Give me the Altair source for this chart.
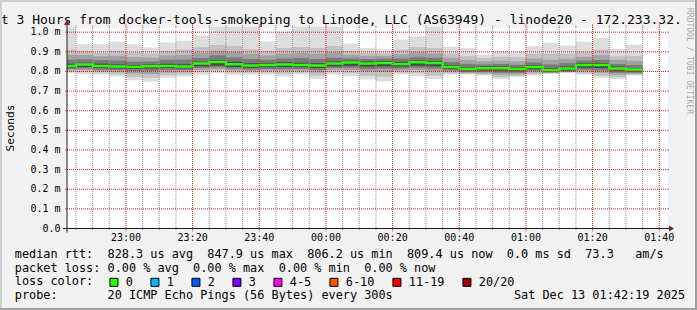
import altair as alt
import pandas as pd

# ---------------------------------------------------------------- text
TITLE_TEXT = "t 3 Hours from docker-tools-smokeping to Linode, LLC (AS63949) - linode20 - 172.233.32."
WATERMARK = "RRDTOOL / TOBI OETIKER"
Y_TITLE = "Seconds"
LEGEND_LINES = [
    "median rtt:  828.3 us avg  847.9 us max  806.2 us min  809.4 us now  0.0 ms sd  73.3   am/s",
    "packet loss: 0.00 % avg  0.00 % max  0.00 % min  0.00 % now",
    "loss color:",
    "probe:       20 ICMP Echo Pings (56 Bytes) every 300s                 Sat Dec 13 01:42:19 2025",
]
LOSS_LABELS = ["0", "1", "2", "3", "4-5", "6-10", "11-19", "20/20"]
LOSS_COLORS = ["#26ff00", "#00b8ff", "#0059ff", "#7e00ff", "#ff00ff", "#ff5500", "#ff0000", "#a10000"]

# ---------------------------------------------------------------- axes
X_START = "2025-12-12 22:42:19"
X_END = "2025-12-13 01:42:19"
X_TICK_TIMES = ["2025-12-12 23:00", "2025-12-12 23:20", "2025-12-12 23:40", "2025-12-13 00:00",
                "2025-12-13 00:20", "2025-12-13 00:40", "2025-12-13 01:00", "2025-12-13 01:20",
                "2025-12-13 01:40"]
X_TICK_LABELS = ["23:00", "23:20", "23:40", "00:00", "00:20", "00:40", "01:00", "01:20", "01:40"]
Y_TICKS = [0.0, 0.1, 0.2, 0.3, 0.4, 0.5, 0.6, 0.7, 0.8, 0.9, 1.0]
Y_TICK_LABELS = ["0.0", "0.1 m", "0.2 m", "0.3 m", "0.4 m", "0.5 m", "0.6 m", "0.7 m", "0.8 m", "0.9 m", "1.0 m"]
Y_MAX = 1.0265

# ---------------------------------------------------------------- data (ms), 5-minute bars from 22:40
FIRST_BAR = "2025-12-12 22:40"
MEDIAN = [0.828, 0.835, 0.828, 0.825, 0.823, 0.827, 0.828, 0.825, 0.840, 0.8479,
          0.837, 0.830, 0.833, 0.835, 0.833, 0.830, 0.841, 0.846, 0.841, 0.843,
          0.838, 0.847, 0.843, 0.823, 0.812, 0.816, 0.816, 0.813, 0.823, 0.8062,
          0.815, 0.833, 0.833, 0.815, 0.8094]
LOSS = ["0"] * 35
SMOKE_MAX = [1.040, 0.939, 0.939, 0.953, 0.939, 0.922, 0.947, 0.958, 0.983, 1.040,
             1.040, 1.040, 0.953, 1.003, 1.040, 1.040, 1.040, 0.942, 0.920, 0.912,
             0.963, 0.980, 1.040, 0.926, 0.920, 0.886, 0.903, 0.900, 0.929, 0.946,
             0.932, 0.951, 0.971, 0.915, 0.937]
SMOKE_HI2 = [0.910, 0.905, 0.895, 0.905, 0.898, 0.892, 0.905, 0.912, 0.925, 0.935,
             0.930, 0.915, 0.905, 0.920, 0.925, 0.920, 0.930, 0.905, 0.895, 0.893,
             0.910, 0.925, 0.920, 0.892, 0.880, 0.868, 0.875, 0.872, 0.890, 0.890,
             0.890, 0.900, 0.910, 0.878, 0.880]
SMOKE_HI3 = [0.885, 0.884, 0.878, 0.880, 0.872, 0.870, 0.882, 0.885, 0.895, 0.905,
             0.900, 0.890, 0.882, 0.892, 0.895, 0.890, 0.898, 0.885, 0.880, 0.880,
             0.888, 0.898, 0.893, 0.870, 0.858, 0.852, 0.855, 0.852, 0.866, 0.860,
             0.865, 0.875, 0.882, 0.858, 0.855]
SMOKE_HI4 = [0.860, 0.862, 0.858, 0.856, 0.850, 0.851, 0.860, 0.860, 0.868, 0.883,
             0.873, 0.863, 0.860, 0.866, 0.868, 0.864, 0.870, 0.866, 0.864, 0.866,
             0.866, 0.873, 0.870, 0.848, 0.838, 0.836, 0.838, 0.834, 0.846, 0.836,
             0.843, 0.856, 0.858, 0.838, 0.833]
SMOKE_HI5 = [0.839, 0.845, 0.839, 0.835, 0.832, 0.835, 0.839, 0.837, 0.849, 0.857,
             0.849, 0.842, 0.843, 0.847, 0.845, 0.842, 0.851, 0.855, 0.851, 0.853,
             0.849, 0.856, 0.853, 0.833, 0.822, 0.825, 0.825, 0.821, 0.832, 0.815,
             0.825, 0.843, 0.843, 0.825, 0.818]
SMOKE_LO5 = [0.819, 0.823, 0.818, 0.815, 0.812, 0.815, 0.817, 0.815, 0.827, 0.831,
             0.823, 0.819, 0.821, 0.823, 0.821, 0.817, 0.827, 0.829, 0.825, 0.827,
             0.825, 0.829, 0.827, 0.812, 0.803, 0.805, 0.803, 0.801, 0.811, 0.799,
             0.805, 0.819, 0.817, 0.803, 0.800]
SMOKE_LO4 = [0.812, 0.815, 0.809, 0.807, 0.802, 0.803, 0.807, 0.807, 0.817, 0.822,
             0.814, 0.810, 0.812, 0.813, 0.812, 0.807, 0.817, 0.819, 0.813, 0.815,
             0.815, 0.819, 0.815, 0.805, 0.797, 0.797, 0.793, 0.793, 0.803, 0.795,
             0.800, 0.809, 0.805, 0.793, 0.794]
SMOKE_LO3 = [0.805, 0.807, 0.801, 0.797, 0.789, 0.787, 0.795, 0.797, 0.807, 0.812,
             0.805, 0.801, 0.803, 0.802, 0.803, 0.795, 0.807, 0.807, 0.800, 0.799,
             0.805, 0.807, 0.801, 0.798, 0.792, 0.790, 0.783, 0.785, 0.795, 0.792,
             0.797, 0.800, 0.793, 0.783, 0.788]
SMOKE_LO2 = [0.798, 0.796, 0.793, 0.786, 0.772, 0.767, 0.782, 0.786, 0.796, 0.801,
             0.794, 0.793, 0.794, 0.788, 0.795, 0.778, 0.796, 0.791, 0.778, 0.773,
             0.795, 0.791, 0.780, 0.790, 0.788, 0.784, 0.770, 0.778, 0.786, 0.790,
             0.795, 0.790, 0.778, 0.770, 0.783]
SMOKE_MIN = [0.791, 0.786, 0.783, 0.774, 0.755, 0.748, 0.769, 0.774, 0.783, 0.791,
             0.783, 0.783, 0.783, 0.774, 0.785, 0.762, 0.784, 0.776, 0.759, 0.750,
             0.784, 0.776, 0.762, 0.784, 0.784, 0.779, 0.762, 0.772, 0.779, 0.789,
             0.793, 0.784, 0.767, 0.762, 0.779]

LEVEL_NAMES = ["L1", "L2", "L3", "L4", "L5"]
SMOKE_SHADES = ["#dddddd", "#c2c2c2", "#a2a2a2", "#7a7a7a", "#484848"]

# ---------------------------------------------------------------- layout
MONO = "DejaVu Sans Mono"
PL, PT, W, H = 67, 27, 600, 201.5
TOTAL_W, TOTAL_H = 697, 310
BG = "#f2f2f2"
GRID_MINOR = "#8f8f8f"
GRID_MAJOR = "#d42020"
TICK_MINOR = "#a8a8a8"
TICK_MAJOR = "#e06868"
AXIS_COL = "#1f1f1f"
ARROW_COL = "#801f1f"


def ms(ts):
    t = pd.Timestamp(ts)
    if t.tzinfo is None:
        t = t.tz_localize("UTC")
    return int(t.timestamp() * 1000)


def rx(a):
    return a - PL


def ry(a):
    return a - PT


NB = "\u00a0"
n = len(MEDIAN)
starts = pd.date_range(FIRST_BAR, periods=n, freq="5min", tz="UTC")
ends = starts + pd.Timedelta(minutes=5)

rows = []
for name, lo, hi in zip(LEVEL_NAMES,
                        [SMOKE_MIN, SMOKE_LO2, SMOKE_LO3, SMOKE_LO4, SMOKE_LO5],
                        [SMOKE_MAX, SMOKE_HI2, SMOKE_HI3, SMOKE_HI4, SMOKE_HI5]):
    for i in range(n):
        rows.append({"start": ms(starts[i]), "end": ms(ends[i]), "lo": lo[i], "hi": hi[i], "level": name})
df_smoke = pd.DataFrame(rows)

df_med = pd.DataFrame({"t": [ms(s) for s in starts] + [ms(ends[-1])],
                       "median": MEDIAN + [MEDIAN[-1]],
                       "loss": LOSS + [LOSS[-1]]})

major_ms = [ms(t) for t in X_TICK_TIMES]
grid_all = pd.date_range("2025-12-12 22:45", "2025-12-13 01:40", freq="5min", tz="UTC")
minor_ms = [ms(t) for t in grid_all if ms(t) not in major_ms]
df_minor = pd.DataFrame({"t": minor_ms})
df_major = pd.DataFrame({"t": major_ms, "label": X_TICK_LABELS})
df_ygrid = pd.DataFrame({"v": Y_TICKS[1:]})
df_ylab = pd.DataFrame({"v": Y_TICKS, "label": [s.replace(" ", NB).ljust(5, NB) for s in Y_TICK_LABELS]})
one = pd.DataFrame({"a": [0]})

xscale = alt.Scale(type="utc", domain=[ms(X_START), ms(X_END)], nice=False)
yscale = alt.Scale(domain=[0, Y_MAX], nice=False, zero=False)


def X(field):
    return alt.X(field, scale=xscale, axis=None)


def Y(field):
    return alt.Y(field, scale=yscale, axis=None)


layers = []

# smoke
layers.append(alt.Chart(df_smoke).mark_rect(clip=True).encode(
    x=X("start:T"), x2="end:T", y=Y("lo:Q"), y2="hi:Q",
    fill=alt.Fill("level:N", scale=alt.Scale(domain=LEVEL_NAMES, range=SMOKE_SHADES), legend=None),
))

# median line (loss colour through its own stroke scale)
layers.append(alt.Chart(df_med).mark_line(clip=True, interpolate="step-after", strokeWidth=2.5).encode(
    x=X("t:T"), y=Y("median:Q"),
    stroke=alt.Stroke("loss:N", scale=alt.Scale(domain=LOSS_LABELS, range=LOSS_COLORS), legend=None),
))

# invisible carrier of the loss colour legend
layers.append(alt.Chart(df_med).mark_square(opacity=0).encode(
    x=X("t:T"), y=Y("median:Q"),
    color=alt.Color("loss:N", scale=alt.Scale(domain=LOSS_LABELS, range=LOSS_COLORS), legend=alt.Legend(
        title=None, orient="none", legendX=rx(108), legendY=ry(276.3), direction="horizontal",
        columns=8, columnPadding=15, labelOffset=6, symbolType="square", symbolSize=64,
        symbolStrokeColor="black", symbolStrokeWidth=1, symbolOpacity=1, labelFont=MONO,
        labelFontSize=11.85, labelColor="black", padding=0)),
))

# grid (drawn above the graph as rrdtool does)
layers.append(alt.Chart(df_minor).mark_rule(strokeDash=[1, 1], color=GRID_MINOR, strokeWidth=1).encode(
    x=X("t:T"), y=alt.value(0), y2=alt.value(H)))
layers.append(alt.Chart(df_major).mark_rule(strokeDash=[1, 1], color=GRID_MAJOR, strokeWidth=1).encode(
    x=X("t:T"), y=alt.value(0), y2=alt.value(H)))
layers.append(alt.Chart(df_ygrid).mark_rule(strokeDash=[1, 1], color=GRID_MAJOR, strokeWidth=1).encode(
    y=Y("v:Q"), x=alt.value(0), x2=alt.value(W)))

# ticks
for df_t, col, ln in [(df_minor, TICK_MINOR, 2), (df_major, TICK_MAJOR, 3)]:
    layers.append(alt.Chart(df_t).mark_rule(color=col).encode(
        x=X("t:T"), y=alt.value(H), y2=alt.value(H + ln)))
    layers.append(alt.Chart(df_t).mark_rule(color=col).encode(
        x=X("t:T"), y=alt.value(-ln), y2=alt.value(0)))
layers.append(alt.Chart(df_ygrid).mark_rule(color=TICK_MAJOR).encode(
    y=Y("v:Q"), x=alt.value(-2), x2=alt.value(0)))
layers.append(alt.Chart(df_ygrid).mark_rule(color=TICK_MAJOR).encode(
    y=Y("v:Q"), x=alt.value(W), x2=alt.value(W + 2)))

# axis lines
layers.append(alt.Chart(one).mark_rule(color=AXIS_COL, strokeWidth=1).encode(
    x=alt.value(-4), x2=alt.value(W + 4), y=alt.value(H)))
layers.append(alt.Chart(one).mark_rule(color=AXIS_COL, strokeWidth=1).encode(
    x=alt.value(0), y=alt.value(H + 4), y2=alt.value(-4)))

# axis labels, placed through the scales
layers.append(alt.Chart(df_major).mark_text(font=MONO, fontSize=10, align="center",
                                            baseline="alphabetic", color="black").encode(
    x=X("t:T"), y=alt.value(ry(241)), text="label:N"))
layers.append(alt.Chart(df_ylab).mark_text(font=MONO, fontSize=10, align="right",
                                           baseline="middle", color="black").encode(
    y=Y("v:Q"), x=alt.value(-6.5), text="label:N"))


def text_layer(txt, x, y, size, align="left", baseline="alphabetic", angle=0, color="black"):
    return alt.Chart(pd.DataFrame({"s": [txt.replace(" ", NB)]})).mark_text(
        font=MONO, fontSize=size, align=align, baseline=baseline, angle=angle, color=color
    ).encode(text="s:N", x=alt.value(x), y=alt.value(y))


layers.append(text_layer(TITLE_TEXT, rx(0.9), ry(23.5), 13))
layers.append(text_layer(Y_TITLE, rx(11), ry(128), 11.1, align="center", baseline="middle", angle=270))
layers.append(text_layer(WATERMARK, rx(688.5), ry(61), 8, align="center", baseline="middle",
                         angle=90, color="#aaaaaa"))
for line, base in zip(LEGEND_LINES, [258.3, 271.8, 285.4, 299.0]):
    layers.append(text_layer(line, rx(14.8), ry(base), 11.85))

# arrows
layers.append(alt.Chart(one).mark_point(shape="M-0.833,-1L0.833,0L-0.833,1Z", size=36, filled=True,
                                        color=ARROW_COL, opacity=1, strokeWidth=0).encode(
    x=alt.value(W + 4.5), y=alt.value(H)))
layers.append(alt.Chart(one).mark_point(shape="M-1,0.833L0,-0.833L1,0.833Z", size=36, filled=True,
                                        color=ARROW_COL, opacity=1, strokeWidth=0).encode(
    x=alt.value(0), y=alt.value(-4.5)))

# 3D frame
for xa, xb, ya, yb, col in [
    (0, TOTAL_W, 1, None, "#cfcfcf"),
    (1, None, 0, TOTAL_H, "#cfcfcf"),
    (0, TOTAL_W, TOTAL_H - 1, None, "#9e9e9e"),
    (TOTAL_W - 1, None, 0, TOTAL_H, "#9e9e9e"),
]:
    enc = {"x": alt.value(rx(xa)), "y": alt.value(ry(ya))}
    if xb is not None:
        enc["x2"] = alt.value(rx(xb))
    if yb is not None:
        enc["y2"] = alt.value(ry(yb))
    layers.append(alt.Chart(one).mark_rule(color=col, strokeWidth=2).encode(**enc))

chart = alt.layer(*layers).resolve_scale(fill="independent", stroke="independent",
                                         color="independent").properties(
    width=W, height=H,
    padding={"left": PL, "top": PT, "right": TOTAL_W - PL - W, "bottom": TOTAL_H - PT - H},
    autosize=alt.AutoSizeParams(type="none"),
).configure(background=BG).configure_view(fill="white", stroke="transparent")

chart.save("out.html", embed_options={"renderer": "svg", "actions": False})
